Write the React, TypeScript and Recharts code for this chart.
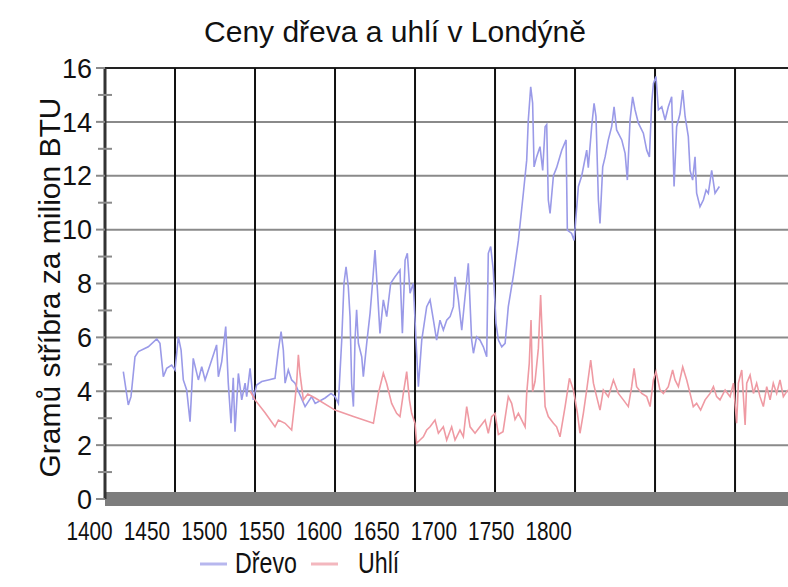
import { LineChart, Line, XAxis, YAxis, ReferenceLine } from "recharts";

const FONT = '"Liberation Sans", Arial, sans-serif';

const title = "Ceny dřeva a uhlí v Londýně";
const yLabel = "Gramů stříbra za milion BTU";
const seriesNames = ["Dřevo", "Uhlí"];
const seriesColors = ["#9a9ae8", "#ef9aa3"];

const yTicks = [0, 1, 2, 3, 4, 5, 6, 7, 8, 9, 10, 11, 12, 13, 14, 15, 16];
const yGrid = [2, 4, 6, 8, 10, 12, 14, 16];
const gridYears = [1450, 1500, 1550, 1600, 1650, 1700, 1750, 1800];
const labelYears = [1400, 1450, 1500, 1550, 1600, 1650, 1700, 1750, 1800];

// wood price (Dřevo)
const woodYears = [
  1417.7, 1420.8, 1422.5, 1425, 1427.1, 1433.3, 1438.6, 1440.6, 1442.7, 1444.8, 1447.9, 1450, 1452.1, 1453.8,
  1455.2, 1457.3, 1459.4, 1461.4, 1464.6, 1466.7, 1468.8, 1471.9, 1476, 1477.1, 1479.2, 1481.7, 1483.3, 1485,
  1486.4, 1487.5, 1489.6, 1491.7, 1493.8, 1494.8, 1496.9, 1498.9, 1501, 1504.2, 1508.3, 1512.5, 1514.6, 1516.3,
  1517.7, 1518.8, 1520.8, 1522.9, 1525, 1527.1, 1531.3, 1535.4, 1537.6, 1543.8, 1547.5, 1550, 1552.1, 1554.2,
  1555.6, 1556.9, 1558.3, 1559.4, 1560.4, 1561.5, 1562.5, 1563.5, 1564.6, 1566.7, 1567.7, 1569.8, 1571.9, 1573.6,
  1575, 1576.5, 1578.1, 1580.2, 1582.3, 1584.8, 1587.5, 1590.6, 1592.1, 1593.8, 1595.2, 1596.9, 1598.9, 1600.6,
  1602.1, 1604.2, 1607.3, 1609.4, 1611.5, 1613.5, 1615.6, 1617.7, 1619.8, 1621.9, 1624, 1625, 1627.1, 1629.2,
  1632.3, 1633.3, 1635.4, 1636.5, 1638.5, 1640.6, 1642.7, 1644.8, 1645.8, 1647.3, 1648.9, 1650.6, 1652.1, 1654.2,
  1656.3, 1658.3, 1661.5, 1664.6, 1667.7, 1669.8, 1670.8, 1672.3, 1673.5, 1674.4, 1676, 1678.1, 1679.8, 1681.3,
  1682.3, 1683.3, 1684.4, 1686.5, 1688.5, 1691.7, 1694.4, 1695.2, 1697.9, 1699.4, 1700.6, 1702.1, 1704.2, 1707.3,
  1708.3, 1710.4, 1711.9, 1713.1, 1714.6, 1715.6, 1717.3, 1718.8, 1720.8, 1722.9, 1724.4, 1726, 1729.2, 1731.3,
  1732.7, 1734.4, 1736, 1737.5, 1739.6, 1742.7, 1744.8, 1746.5, 1747.9, 1749, 1750.6, 1752.1, 1754.2, 1756.3,
  1758.3, 1760.4, 1761.9, 1763.5, 1765.6, 1767.3, 1768.8, 1770.8, 1771.9, 1773.5, 1775, 1776, 1778.1, 1780.2,
  1781.9, 1783.3, 1785.4, 1787.5, 1790.2,
];
const woodPrices = [
  4.73, 3.49, 3.8, 5.28, 5.47, 5.65, 5.94, 5.78, 4.54, 4.85, 4.97, 4.79, 6.02, 5.53,
  4.42, 4.05, 2.87, 5.22, 4.42, 4.91, 4.42, 4.97, 5.72, 4.54, 5.1, 6.4, 4.3, 2.81,
  4.5, 2.5, 4.66, 3.68, 4.3, 3.8, 4.85, 3.68, 4.23, 4.36, 4.42, 4.48, 5.53, 6.21,
  5.53, 4.3, 4.79, 4.42, 4.3, 4.0, 3.43, 3.8, 3.55, 3.75, 3.92, 3.8, 3.55, 5.9,
  8.01, 8.62, 7.88, 6.77, 4.29, 3.43, 5.9, 7.02, 5.78, 5.28, 4.54, 5.78, 6.89, 8.13,
  9.24, 7.76, 6.15, 7.39, 6.77, 8.01, 8.25, 8.5, 6.15, 8.87, 9.12, 7.64, 8.01, 5.9,
  4.17, 5.9, 7.14, 7.39, 6.64, 5.9, 6.64, 6.27, 6.64, 6.77, 7.14, 8.25, 7.39, 6.27,
  8.13, 8.75, 5.9, 5.41, 6.02, 5.9, 5.65, 5.28, 9.12, 9.37, 8.5, 6.52, 5.9, 5.65,
  5.78, 7.14, 8.3, 9.6, 11.35, 12.58, 14.07, 15.3, 14.7, 12.33, 12.7, 13.08, 12.2, 13.82,
  13.9, 11.1, 10.6, 12.0, 12.3, 12.95, 13.33, 9.98, 9.86, 9.6, 10.48, 11.6, 12.0, 12.95,
  12.3, 13.82, 14.69, 14.2, 11.1, 10.23, 12.33, 12.7, 13.33, 13.82, 14.56, 13.7, 13.33, 12.83,
  11.84, 14.07, 14.93, 14.45, 13.95, 13.58, 12.95, 12.7, 14.69, 15.43, 15.68, 14.45, 14.56, 14.07,
  14.56, 14.93, 11.6, 13.82, 14.3, 15.18, 14.2, 13.45, 12.2, 11.84, 12.7, 11.35, 10.85, 11.1,
  11.47, 11.35, 12.2, 11.35, 11.6,
];

// coal price (Uhlí)
const coalYears = [
  1497, 1500, 1506.3, 1512.5, 1514.6, 1518.8, 1522.9, 1525, 1526, 1527.1, 1528.1, 1530.2, 1533, 1537.6,
  1550, 1561.5, 1574, 1577.1, 1580.2, 1582.3, 1585.4, 1588.5, 1590.6, 1592.7, 1594.8, 1596.5, 1597.9, 1600,
  1601, 1603.1, 1605.2, 1607.3, 1609.4, 1612.5, 1614.6, 1617.7, 1619.8, 1622.9, 1625, 1628.1, 1630.2, 1632.3,
  1634.4, 1637.5, 1640.6, 1643.8, 1645.8, 1647.9, 1650, 1652.1, 1655, 1658.3, 1660.4, 1662.5, 1664.6, 1666.7,
  1668.8, 1669.8, 1671.4, 1672.5, 1673.5, 1675, 1677.1, 1678.5, 1679.8, 1681.3, 1683.3, 1686.5, 1688.5, 1690.6,
  1693.8, 1696.5, 1699, 1701.5, 1703.1, 1705.2, 1707.3, 1709.8, 1711.5, 1713.5, 1715.6, 1717.7, 1720.8, 1724,
  1727.1, 1730.2, 1733.3, 1735.4, 1736.9, 1738.5, 1741.7, 1744.8, 1746.9, 1749, 1750.6, 1753.1, 1755.2, 1758.3,
  1761, 1762.5, 1764.6, 1767.3, 1769.8, 1771.9, 1773.9, 1776, 1778.5, 1781.3, 1784.4, 1786.5, 1788.5, 1790.6,
  1793.8, 1796.9, 1799, 1801, 1802.1, 1804.2, 1806.3, 1807.3, 1809.4, 1811.5, 1813.5, 1815.6, 1817.7, 1819.8,
  1821.9, 1823.9, 1826, 1828.1, 1830.2, 1833,
];
const coalPrices = [
  4.0, 3.68, 3.2, 2.68, 2.93, 2.81, 2.56, 3.68, 4.3, 5.35, 4.66, 3.68, 3.9, 3.75,
  3.3, 3.06, 2.81, 3.92, 4.67, 4.29, 3.55, 3.18, 3.06, 3.92, 4.73, 3.68, 3.18, 2.81,
  2.07, 2.19, 2.31, 2.56, 2.68, 2.93, 2.44, 2.68, 2.19, 2.68, 2.19, 2.56, 2.31, 3.43,
  2.68, 2.44, 2.68, 2.93, 2.44, 3.06, 3.18, 2.4, 2.5, 3.8, 3.55, 2.95, 3.18, 2.93,
  2.68, 3.92, 5.04, 6.64, 3.99, 4.36, 5.6, 7.57, 5.6, 3.43, 3.06, 2.81, 2.68, 2.31,
  3.43, 4.48, 4.05, 3.18, 2.44, 3.18, 4.05, 5.16, 4.3, 3.8, 3.3, 4.05, 3.8, 4.42,
  3.92, 3.68, 3.43, 4.17, 4.85, 4.17, 3.92, 3.8, 3.43, 4.42, 4.73, 4.05, 3.92, 4.17,
  4.79, 4.42, 4.17, 4.9, 4.42, 3.92, 3.43, 3.55, 3.3, 3.68, 3.92, 4.17, 3.8, 3.68,
  4.05, 3.8, 4.3, 2.81, 4.3, 4.79, 2.75, 4.3, 4.6, 3.92, 4.3, 3.8, 3.43, 4.17,
  3.68, 4.3, 3.92, 4.42, 3.8, 4.05,
];

const woodData = woodYears.map((year, i) => ({ year, value: woodPrices[i] }));
const coalData = coalYears.map((year, i) => ({ year, value: coalPrices[i] }));
const seriesData = [woodData, coalData];
const labelData = labelYears.map((tickYear) => ({ tickYear }));

function YTick(props: any) {
  const { x, y, payload } = props;
  const major = payload.value % 2 === 0;
  return (
    <g>
      <line x1={major ? x - 9 : x - 7} x2={major ? x : x + 7} y1={y} y2={y} stroke="#8a8a8a" strokeWidth={2} />
      {major && (
        <text x={x - 13} y={y} dy="0.36em" textAnchor="end" fontSize={27} fontFamily={FONT} fill="#111">
          {payload.value}
        </text>
      )}
    </g>
  );
}

// the year labels are set in a narrow face
function XTick(props: any) {
  const { x, y, payload } = props;
  return (
    <text
      transform={`translate(${x},${y}) scale(0.8,1)`}
      dy="0.71em"
      textAnchor="middle"
      fontSize={26}
      fontFamily={FONT}
      fill="#111"
    >
      {payload.value}
    </text>
  );
}

function YLabel(props: any) {
  const vb = props.viewBox;
  const cx = vb.x + 4.5;
  const cy = vb.y + vb.height / 2 + 4;
  return (
    <text
      x={cx}
      y={cy}
      transform={`rotate(-90, ${cx}, ${cy})`}
      textAnchor="middle"
      dominantBaseline="central"
      fontSize={30}
      fontFamily={FONT}
      fill="#111"
    >
      {yLabel}
    </text>
  );
}

export default function App() {
  return (
    <div style={{ position: "absolute", left: 0, top: 0, width: 788, height: 587, background: "#fff", overflow: "hidden" }}>
      <div
        style={{
          position: "absolute",
          left: 0,
          top: 17,
          width: 790,
          textAlign: "center",
          fontFamily: FONT,
          fontSize: 30,
          lineHeight: "30px",
          color: "#111",
        }}
      >
        {title}
      </div>

      <LineChart width={788} height={587} data={labelData} margin={{ top: 68, right: 0, bottom: 58, left: 45 }}>
        <XAxis xAxisId="yr" dataKey="year" type="number" domain={[1406.25, 1833.1]} allowDataOverflow hide />
        <XAxis
          xAxisId="lab"
          dataKey="tickYear"
          type="number"
          domain={[1413.5, 2008.6]}
          allowDataOverflow
          ticks={labelYears}
          interval={0}
          tickLine={false}
          tickSize={6}
          tickMargin={17}
          height={30}
          axisLine={{ stroke: "#7d7d7d", strokeWidth: 14 }}
          tick={<XTick />}
        />
        <YAxis
          type="number"
          domain={[0, 16]}
          ticks={yTicks}
          interval={0}
          width={60}
          tickLine={false}
          tickSize={0}
          tickMargin={0}
          axisLine={{ stroke: "#333", strokeWidth: 3 }}
          tick={<YTick />}
          label={{ content: YLabel }}
        />
        {yGrid.map((v) => (
          <ReferenceLine key={"h" + v} xAxisId="yr" y={v} stroke={v === 16 ? "#222" : "#8a8a8a"} strokeWidth={2} />
        ))}
        {gridYears.map((yr) => (
          <ReferenceLine key={"v" + yr} xAxisId="yr" x={yr} stroke="#111" strokeWidth={2} />
        ))}
        {seriesNames.map((name, i) => (
          <Line
            key={name}
            name={name}
            data={seriesData[i]}
            xAxisId="yr"
            dataKey="value"
            type="linear"
            stroke={seriesColors[i]}
            strokeWidth={1.6}
            dot={false}
            isAnimationActive={false}
          />
        ))}
      </LineChart>

      <div
        style={{
          position: "absolute",
          left: 200,
          top: 549,
          display: "flex",
          alignItems: "center",
          fontFamily: FONT,
          fontSize: 29,
          lineHeight: "29px",
          color: "#111",
        }}
      >
        {seriesNames.map((name, i) => (
          <span key={name} style={{ display: "flex", alignItems: "center", marginRight: i === 0 ? 14 : 0 }}>
            <svg width={27} height={4}>
              <line x1={0} x2={27} y1={2} y2={2} stroke={seriesColors[i]} strokeWidth={3} opacity={0.7} />
            </svg>
            <span
              style={{
                display: "inline-block",
                marginLeft: i === 0 ? 8 : 20,
                transform: "scaleX(0.8)",
                transformOrigin: "left center",
                width: i === 0 ? 62 : 38,
                whiteSpace: "nowrap",
              }}
            >
              {name}
            </span>
          </span>
        ))}
      </div>
    </div>
  );
}
